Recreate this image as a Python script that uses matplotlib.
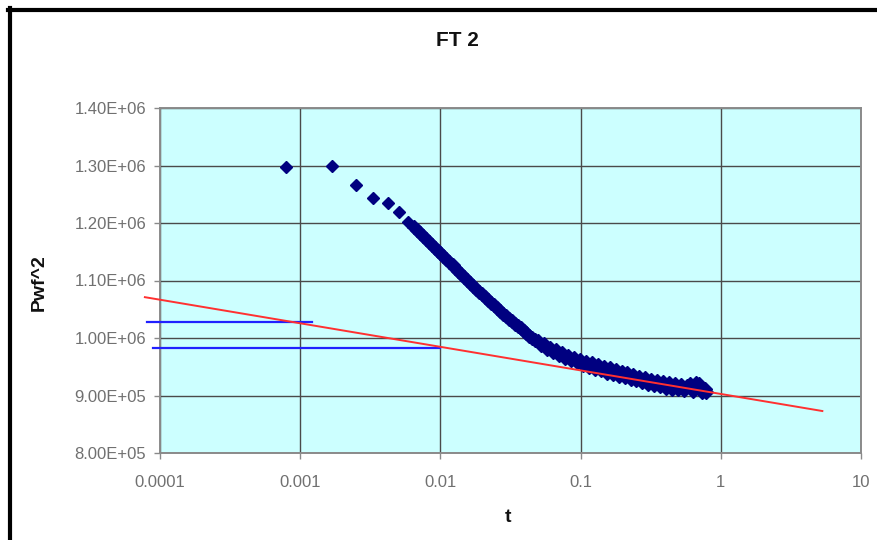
import matplotlib
matplotlib.use('Agg')
import matplotlib.pyplot as plt
from matplotlib.lines import Line2D
from matplotlib.ticker import FixedLocator, FuncFormatter, NullLocator

plt.rcParams['font.family'] = ['Liberation Sans', 'DejaVu Sans']

# data: early scattered points
t_early = [7.93e-4, 1.69e-3, 2.50e-3, 3.32e-3, 4.21e-3, 5.07e-3, 5.84e-3]
p_early = [1298000, 1300000, 1266000, 1244000, 1234000, 1219000, 1202000]

# data: dense part of the test
t_dense = [0.0065, 0.0068, 0.0072, 0.0075, 0.0079, 0.0083, 0.0087, 0.0091, 0.0096, 0.0100,
           0.0105, 0.0110, 0.0116, 0.0122, 0.0128, 0.0134, 0.0141, 0.0148, 0.0155, 0.0163,
           0.0171, 0.0180, 0.0189, 0.0198, 0.0208, 0.0218, 0.0229, 0.0240, 0.0252, 0.0265,
           0.0278, 0.0292, 0.0307, 0.0322, 0.0338, 0.0355, 0.0373, 0.0392, 0.0411, 0.0432,
           0.0453, 0.0476, 0.0500, 0.0525, 0.0551, 0.0579, 0.0608, 0.0638, 0.0670, 0.0703,
           0.0739, 0.0776, 0.0814, 0.0855, 0.0898, 0.0943, 0.0990, 0.104, 0.109, 0.115,
           0.120, 0.126, 0.133, 0.139, 0.146, 0.154, 0.161, 0.169, 0.178, 0.187,
           0.196, 0.206, 0.216, 0.227, 0.238, 0.250, 0.263, 0.276, 0.290, 0.304,
           0.320, 0.336, 0.352, 0.370, 0.388, 0.408, 0.428, 0.450, 0.472, 0.496,
           0.520, 0.546, 0.574, 0.602, 0.632, 0.664, 0.697, 0.732, 0.768, 0.790]
p_dense = [1193000, 1188000, 1182000, 1177600, 1172100, 1166900, 1161900, 1157200, 1151500, 1147200,
           1142000, 1137200, 1131500, 1126200, 1121100, 1116300, 1110900, 1105700, 1100800, 1095500,
           1090400, 1085100, 1080300, 1075700, 1070800, 1066100, 1061300, 1056700, 1051800, 1046900,
           1042200, 1037400, 1033200, 1029200, 1025100, 1020900, 1016700, 1012500, 1008500, 1004300,
           1000300, 996200, 995000, 988000, 989000, 981500, 983000, 976000, 978500, 971000,
           974000, 966000, 969500, 961500, 965500, 957500, 961500, 953000, 959000, 950000,
           956000, 946500, 953000, 943500, 950000, 940000, 947000, 937500, 944500, 934500,
           941500, 931500, 939000, 929000, 936000, 926500, 933000, 923500, 930500, 920500,
           927500, 918000, 925500, 916000, 923500, 913500, 921000, 912000, 919500, 910500,
           918000, 909000, 917000, 920000, 908000, 921000, 919500, 906000, 912000, 906500]

# straight-line fit (red) and the two horizontal marks (blue)
t_fit = [7.8e-5, 5.3]
p_fit = [1071000, 873000]
t_mark1 = [8.1e-5, 1.22e-3]
p_mark1 = [1028000, 1028000]
t_mark2 = [8.9e-5, 0.01]
p_mark2 = [982000, 982000]

x_ticks = [0.0001, 0.001, 0.01, 0.1, 1, 10]
x_ticklabels = ['0.0001', '0.001', '0.01', '0.1', '1', '10']
y_ticks = [800000, 900000, 1000000, 1100000, 1200000, 1300000, 1400000]

fig = plt.figure(figsize=(8.78, 5.40), dpi=100)
ax = fig.add_axes([160/878, 87/540, 701/878, 345/540])
ax.set_facecolor('#ccffff')

ax.set_xscale('log')
ax.set_xlim(1e-4, 10)
ax.set_ylim(800000, 1400000)

navy = '#000080'
ax.plot(t_early, p_early, linestyle='none', marker='D', markersize=6.6,
        color=navy, zorder=4)
ax.plot(t_dense, p_dense, linestyle='none', marker='D', markersize=6.8,
        color=navy, zorder=4)

ax.plot(t_fit, p_fit, color='#ff3030', linewidth=1.4, zorder=5, clip_on=False)
ax.plot(t_mark1, p_mark1, color='#2020ff', linewidth=1.6, zorder=3, clip_on=False)
ax.plot(t_mark2, p_mark2, color='#2020ff', linewidth=1.6, zorder=3, clip_on=False)

# ticks and grid
ax.xaxis.set_major_locator(FixedLocator(x_ticks))
ax.xaxis.set_minor_locator(NullLocator())
ax.set_xticklabels(x_ticklabels)
ax.yaxis.set_major_locator(FixedLocator(y_ticks))
ax.yaxis.set_major_formatter(FuncFormatter(lambda v, pos: f'{v:.2E}'))

ax.grid(True, which='major', color='#4a4a4a', linewidth=1.0, zorder=1)
ax.set_axisbelow(True)
for s in ax.spines.values():
    s.set_color('#8a8a8a')
    s.set_linewidth(1.4)
ax.tick_params(axis='both', direction='out', length=4, width=1, color='#8a8a8a',
               labelcolor='#707070', labelsize=12)
ax.tick_params(axis='y', pad=6)
ax.tick_params(axis='x', pad=12)

# titles
fig.text(457/878, 1 - 40/540, 'FT 2', ha='center', va='center',
         fontsize=15, fontweight='bold', color='#111111')
fig.text(508/878, 1 - 517/540, 't', ha='center', va='center',
         fontsize=14, fontweight='bold', color='#111111')
fig.text(39.5/878, 1 - 283/540, 'Pwf^2', ha='center', va='center', rotation=90,
         fontsize=14, fontweight='bold', color='#111111')

# chart frame (top and left edges)
fig.add_artist(Line2D([8/878, 1.0], [1 - 9.5/540, 1 - 9.5/540],
                      color='black', linewidth=3, transform=fig.transFigure))
fig.add_artist(Line2D([10.3/878, 10.3/878], [0.0, 1 - 8/540],
                      color='black', linewidth=3, transform=fig.transFigure))

fig.savefig('out.png', dpi=100)
